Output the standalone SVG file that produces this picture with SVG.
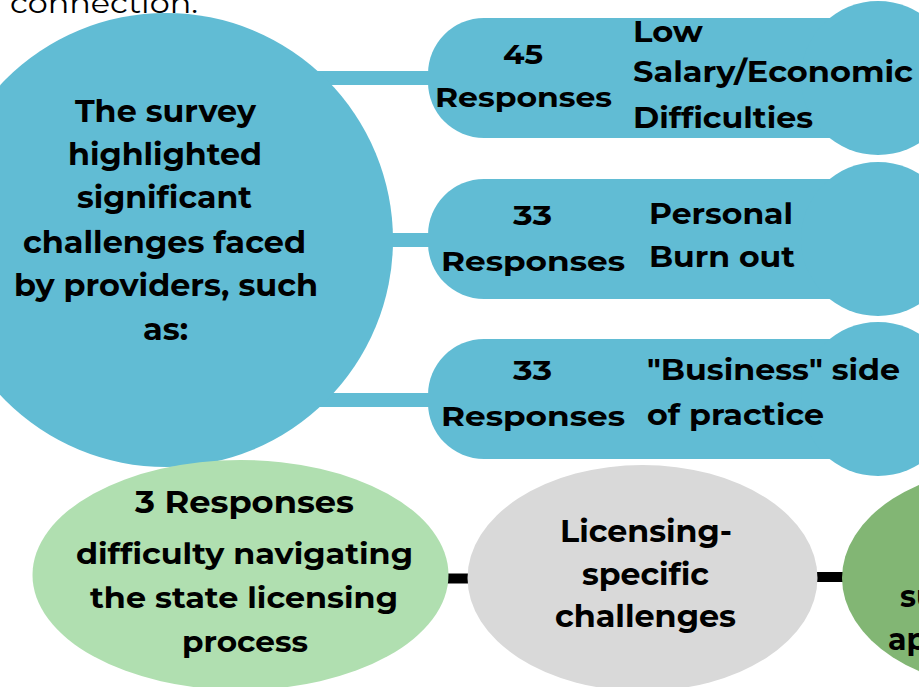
<svg xmlns="http://www.w3.org/2000/svg" width="919" height="687" viewBox="0 0 919 687">
<style>
.blue{fill:#61bcd4}
.t{font-family:Montserrat,"Open Sans","Liberation Sans",sans-serif;font-weight:700;fill:#000}
.r{font-family:Montserrat,"Open Sans","Liberation Sans",sans-serif;font-weight:400;fill:#000}
.bar{stroke:#61bcd4;stroke-width:14}
.blk{stroke:#000;stroke-width:10}
</style>
<rect width="919" height="687" fill="#fff"/>
<text class="r" x="10" y="13" font-size="28" textLength="188" lengthAdjust="spacingAndGlyphs">connection.</text>
<g id="connectors">
<line class="bar" x1="300" y1="78" x2="440" y2="78"/>
<line class="bar" x1="360" y1="240" x2="440" y2="240"/>
<line class="bar" x1="300" y1="400" x2="440" y2="400"/>
<line class="blk" x1="444" y1="578.5" x2="472" y2="578.5"/>
<line class="blk" x1="813" y1="577" x2="846" y2="577"/>
</g>
<g id="main">
<circle class="blue" cx="166" cy="240" r="227"/>
<g font-size="30">
<text class="t" x="75" y="122" textLength="181" lengthAdjust="spacingAndGlyphs">The survey</text>
<text class="t" x="68" y="165" textLength="194" lengthAdjust="spacingAndGlyphs">highlighted</text>
<text class="t" x="77" y="208" textLength="175" lengthAdjust="spacingAndGlyphs">significant</text>
<text class="t" x="23" y="253" textLength="283" lengthAdjust="spacingAndGlyphs">challenges faced</text>
<text class="t" x="14" y="296" textLength="304" lengthAdjust="spacingAndGlyphs">by providers, such</text>
<text class="t" x="143" y="340" textLength="45" lengthAdjust="spacingAndGlyphs">as:</text>
</g>
</g>
<g id="salary">
<path class="blue" d="M484 18H919V138H484A56 56 0 0 1 428 82V74A56 56 0 0 1 484 18Z"/>
<circle class="blue" cx="878" cy="78" r="77"/>
<text class="t" x="503" y="64" font-size="28" textLength="40" lengthAdjust="spacingAndGlyphs">45</text>
<text class="t" x="435" y="107" font-size="28" textLength="177" lengthAdjust="spacingAndGlyphs">Responses</text>
<text class="t" x="633" y="42" font-size="29" textLength="70" lengthAdjust="spacingAndGlyphs">Low</text>
<text class="t" x="633" y="82" font-size="29" textLength="280" lengthAdjust="spacingAndGlyphs">Salary/Economic</text>
<text class="t" x="633" y="128" font-size="29" textLength="180" lengthAdjust="spacingAndGlyphs">Difficulties</text>
</g>
<g id="burnout">
<path class="blue" d="M484 179H919V299H484A56 56 0 0 1 428 243V235A56 56 0 0 1 484 179Z"/>
<circle class="blue" cx="878" cy="239" r="77"/>
<text class="t" x="513" y="225" font-size="28" textLength="39" lengthAdjust="spacingAndGlyphs">33</text>
<text class="t" x="441" y="271" font-size="28" textLength="184" lengthAdjust="spacingAndGlyphs">Responses</text>
<text class="t" x="649" y="224" font-size="29" textLength="144" lengthAdjust="spacingAndGlyphs">Personal</text>
<text class="t" x="649" y="267" font-size="29" textLength="146" lengthAdjust="spacingAndGlyphs">Burn out</text>
</g>
<g id="business">
<path class="blue" d="M484 339H919V459H484A56 56 0 0 1 428 403V395A56 56 0 0 1 484 339Z"/>
<circle class="blue" cx="878" cy="399" r="77"/>
<text class="t" x="513" y="380" font-size="28" textLength="39" lengthAdjust="spacingAndGlyphs">33</text>
<text class="t" x="441" y="426" font-size="28" textLength="184" lengthAdjust="spacingAndGlyphs">Responses</text>
<text class="t" x="647" y="380" font-size="29" textLength="253" lengthAdjust="spacingAndGlyphs">"Business" side</text>
<text class="t" x="647" y="425" font-size="29" textLength="177" lengthAdjust="spacingAndGlyphs">of practice</text>
</g>
<g id="state-licensing">
<ellipse cx="240.5" cy="575" rx="208" ry="115" fill="#b0dfb0"/>
<text class="t" x="135" y="513" font-size="31" textLength="219" lengthAdjust="spacingAndGlyphs">3 Responses</text>
<text class="t" x="76" y="564" font-size="29" textLength="337" lengthAdjust="spacingAndGlyphs">difficulty navigating</text>
<text class="t" x="90" y="608" font-size="29" textLength="308" lengthAdjust="spacingAndGlyphs">the state licensing</text>
<text class="t" x="182" y="652" font-size="29" textLength="126" lengthAdjust="spacingAndGlyphs">process</text>
</g>
<g id="licensing">
<ellipse cx="642.5" cy="578" rx="175" ry="113" fill="#d9d9d9"/>
<text class="t" x="560" y="542" font-size="30" textLength="172" lengthAdjust="spacingAndGlyphs">Licensing-</text>
<text class="t" x="582" y="585" font-size="30" textLength="127" lengthAdjust="spacingAndGlyphs">specific</text>
<text class="t" x="555" y="627" font-size="30" textLength="181" lengthAdjust="spacingAndGlyphs">challenges</text>
</g>
<g id="right-green">
<ellipse cx="1015" cy="578" rx="173" ry="112" fill="#82b674"/>
<text class="t" x="900" y="607" font-size="30">su</text>
<text class="t" x="888" y="650" font-size="30">ap</text>
</g>
</svg>
